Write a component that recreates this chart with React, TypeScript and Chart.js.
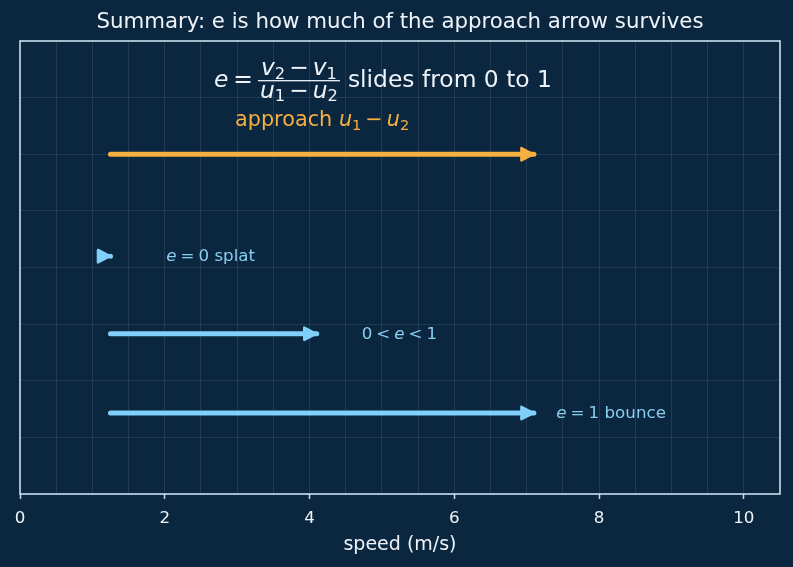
import React, { useEffect, useRef } from 'react';
import { Chart, registerables } from 'chart.js';

Chart.register(...registerables);

const FONT = '"DejaVu Sans", "Liberation Sans", sans-serif';
const BG = '#0b2740';
const GRID = 'rgba(255,255,255,0.09)';
const BORDER = '#c6dcee';
const TEXT = '#eef3f8';
const ORANGE = '#f5b042';
const BLUE = '#80d0fb';
const BLUE_TEXT = '#88cdee';

// ---- data ----
const arrowNames = ['approach', 'e = 0 splat', '0 < e < 1', 'e = 1 bounce'];
const arrowStartX = [1.25, 1.25, 1.25, 1.25];
const arrowEndX = [7.1, 1.25, 4.1, 7.1];
const arrowY = [6.0, 4.2, 2.83, 1.43];
const arrowColors = [ORANGE, BLUE, BLUE, BLUE];
const xTickLabels = [0, 2, 4, 6, 8, 10];
const xRange = [0, 10.5];
const yRange = [0, 8];
// annotation anchors (data coords)
const caseLabelX = [2.02, 4.72, 7.41];
const formulaAnchor = [2.68, 7.3];
const approachAnchor = [2.97, 6.6];

type Run = { t?: string; size?: number; it?: boolean; dy?: number; gap?: number };

const fnt = (r: Run) => `${r.it ? 'italic ' : ''}${r.size}px ${FONT}`;

function measureRuns(ctx: CanvasRenderingContext2D, runs: Run[]) {
  let w = 0;
  for (const r of runs) {
    if (r.gap) { w += r.gap; continue; }
    ctx.font = fnt(r);
    w += ctx.measureText(r.t || '').width;
  }
  return w;
}

function drawRuns(ctx: CanvasRenderingContext2D, runs: Run[], x: number, base: number, color: string) {
  ctx.fillStyle = color;
  ctx.textAlign = 'left';
  ctx.textBaseline = 'alphabetic';
  for (const r of runs) {
    if (r.gap) { x += r.gap; continue; }
    ctx.font = fnt(r);
    ctx.fillText(r.t || '', x, base + (r.dy || 0));
    x += ctx.measureText(r.t || '').width;
  }
  return x;
}

function caseRuns(i: number, S: number): Run[] {
  const g = 4;
  if (i === 0) return [{ t: 'e', size: S, it: true }, { gap: g }, { t: '=', size: S }, { gap: g }, { t: '0', size: S }, { t: ' splat', size: S }];
  if (i === 1) return [{ t: '0', size: S }, { gap: g }, { t: '<', size: S }, { gap: g }, { t: 'e', size: S, it: true }, { gap: g }, { t: '<', size: S }, { gap: g }, { t: '1', size: S }];
  return [{ t: 'e', size: S, it: true }, { gap: g }, { t: '=', size: S }, { gap: g }, { t: '1', size: S }, { t: ' bounce', size: S }];
}

const decorPlugin = {
  id: 'decor',
  beforeDraw(chart: any) {
    const { ctx, width, height } = chart;
    ctx.save();
    ctx.fillStyle = BG;
    ctx.fillRect(0, 0, width, height);
    ctx.restore();
  },
  afterDatasetsDraw(chart: any) {
    const ctx: CanvasRenderingContext2D = chart.ctx;
    ctx.save();
    chart.data.datasets.forEach((ds: any, i: number) => {
      const meta = chart.getDatasetMeta(i);
      const pts = meta.data;
      if (!pts || pts.length < 2) return;
      const a = pts[0], b = pts[pts.length - 1];
      let dx = b.x - a.x, dy = b.y - a.y;
      const len = Math.hypot(dx, dy);
      if (len < 1e-6) { dx = 1; dy = 0; } else { dx /= len; dy /= len; }
      const L = 12, W = 6.2;
      const tx = b.x - dx * 0.5, ty = b.y - dy * 0.5;
      const bx = tx - dx * L, by = ty - dy * L;
      ctx.beginPath();
      ctx.moveTo(tx, ty);
      ctx.lineTo(bx - dy * W, by + dx * W);
      ctx.lineTo(bx + dy * W, by - dx * W);
      ctx.closePath();
      ctx.fillStyle = ds.borderColor;
      ctx.strokeStyle = ds.borderColor;
      ctx.lineJoin = 'round';
      ctx.lineWidth = 2.5;
      ctx.fill();
      ctx.stroke();
    });
    ctx.restore();
  },
  afterDraw(chart: any) {
    const ctx: CanvasRenderingContext2D = chart.ctx;
    const area = chart.chartArea;
    const xs = chart.scales.x, ys = chart.scales.y;
    ctx.save();
    // frame
    ctx.strokeStyle = BORDER;
    ctx.lineWidth = 1.6;
    ctx.strokeRect(area.left, area.top, area.right - area.left, area.bottom - area.top);

    // title
    ctx.fillStyle = TEXT;
    ctx.font = `21.3px ${FONT}`;
    ctx.textAlign = 'center';
    ctx.textBaseline = 'middle';
    ctx.fillText('Summary: e is how much of the approach arrow survives', (area.left + area.right) / 2, 22);

    // formula
    const S = 23.4, s = 16.3;
    const fx = xs.getPixelForValue(formulaAnchor[0]);
    const fy = ys.getPixelForValue(formulaAnchor[1]);
    const base = fy + 6.5;
    let x = drawRuns(ctx, [{ t: 'e', size: S, it: true }, { gap: 5 }, { t: '=', size: S }, { gap: 5 }], fx, base, TEXT);
    const num: Run[] = [{ t: 'v', size: S, it: true }, { t: '2', size: s, dy: 3.5 }, { gap: 4 }, { t: '\u2212', size: S }, { gap: 4 }, { t: 'v', size: S, it: true }, { t: '1', size: s, dy: 3.5 }];
    const den: Run[] = [{ t: 'u', size: S, it: true }, { t: '1', size: s, dy: 3.5 }, { gap: 4 }, { t: '\u2212', size: S }, { gap: 4 }, { t: 'u', size: S, it: true }, { t: '2', size: s, dy: 3.5 }];
    const nw = measureRuns(ctx, num), dw = measureRuns(ctx, den);
    const fw = Math.max(nw, dw) + 4;
    ctx.fillStyle = TEXT;
    ctx.fillRect(x, fy - 0.6, fw, 1.3);
    drawRuns(ctx, num, x + (fw - nw) / 2, fy - 5.5, TEXT);
    drawRuns(ctx, den, x + (fw - dw) / 2, fy + 17, TEXT);
    x += fw + 8;
    drawRuns(ctx, [{ t: 'slides from 0 to 1', size: S }], x, base, TEXT);

    // approach label
    const A = 20.8, a2 = 14.6;
    const ax = xs.getPixelForValue(approachAnchor[0]);
    const ay = ys.getPixelForValue(approachAnchor[1]);
    drawRuns(ctx, [
      { t: 'approach ', size: A },
      { t: 'u', size: A, it: true }, { t: '1', size: a2, dy: 3.5 }, { gap: 4 },
      { t: '\u2212', size: A }, { gap: 4 },
      { t: 'u', size: A, it: true }, { t: '2', size: a2, dy: 3.5 },
    ], ax, ay + 5.8, ORANGE);

    // case labels
    const C = 16.7;
    for (let i = 0; i < caseLabelX.length; i++) {
      const lx = xs.getPixelForValue(caseLabelX[i]);
      const ly = ys.getPixelForValue(arrowY[i + 1]);
      drawRuns(ctx, caseRuns(i, C), lx, ly + 4.8, BLUE_TEXT);
    }
    ctx.restore();
  },
};

export default function App() {
  const ref = useRef<HTMLCanvasElement | null>(null);
  useEffect(() => {
    document.body.style.margin = '0';
    document.body.style.background = BG;
    const canvas = ref.current;
    if (!canvas) return;
    const datasets = arrowNames.map((name, i) => ({
      label: name,
      data: [{ x: arrowStartX[i], y: arrowY[i] }, { x: arrowEndX[i], y: arrowY[i] }],
      borderColor: arrowColors[i],
      backgroundColor: arrowColors[i],
      borderWidth: 5,
      borderCapStyle: 'round' as const,
      pointRadius: 0,
      pointHoverRadius: 0,
      fill: false,
      tension: 0,
    }));
    const chart = new Chart(canvas, {
      type: 'line',
      data: { datasets },
      options: {
        responsive: false,
        devicePixelRatio: 1,
        animation: false,
        events: [],
        layout: { padding: { left: 20, right: 13, top: 41, bottom: 0 } },
        plugins: { legend: { display: false }, tooltip: { enabled: false }, title: { display: false } },
        scales: {
          x: {
            type: 'linear',
            min: xRange[0],
            max: xRange[1],
            ticks: {
              stepSize: 0.5,
              autoSkip: false,
              maxRotation: 0,
              color: TEXT,
              padding: 10,
              font: { family: FONT, size: 16.7 },
              callback: (v: any) => (xTickLabels.includes(Number(v)) ? String(v) : ''),
            },
            grid: {
              color: GRID,
              lineWidth: 1,
              tickLength: 5,
              tickWidth: 1.5,
              tickColor: (c: any) => (c.tick && xTickLabels.includes(Number(c.tick.value)) ? BORDER : 'rgba(0,0,0,0)'),
            },
            border: { display: false },
            title: {
              display: true,
              text: 'speed (m/s)',
              color: TEXT,
              font: { family: FONT, size: 19 },
              padding: { top: 0, bottom: 11 },
            },
            afterFit: (s: any) => { s.height = 73; },
          },
          y: {
            type: 'linear',
            min: yRange[0],
            max: yRange[1],
            ticks: { display: false, stepSize: 1 },
            grid: { color: GRID, lineWidth: 1, drawTicks: false },
            border: { display: false },
            afterFit: (s: any) => { s.width = 0; },
          },
        },
      },
      plugins: [decorPlugin],
    } as any);
    return () => chart.destroy();
  }, []);
  return <canvas ref={ref} width={793} height={567} style={{ display: 'block' }} />;
}
